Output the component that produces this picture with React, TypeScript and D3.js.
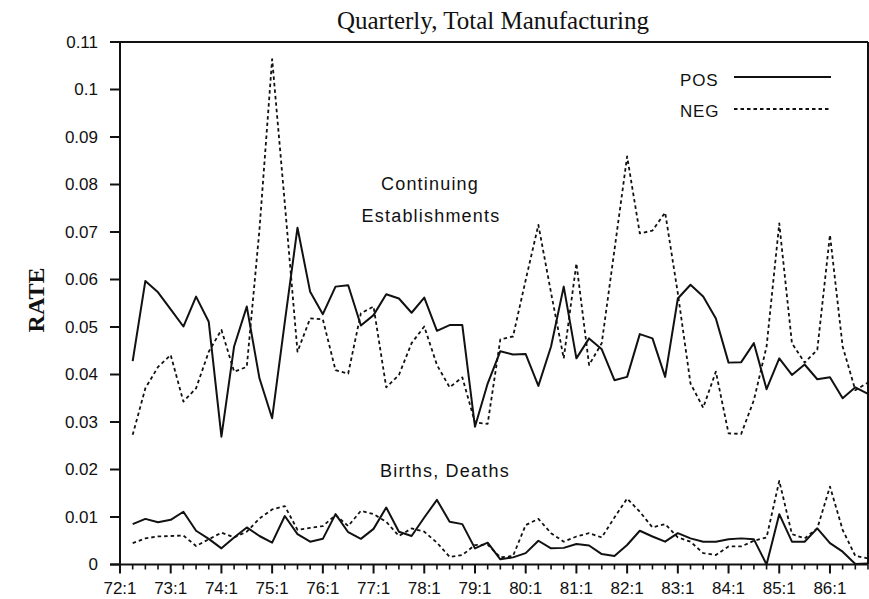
import * as d3 from 'd3';

const YEARS = [72, 73, 74, 75, 76, 77, 78, 79, 80, 81, 82, 83, 84, 85, 86];
const QUARTERS = YEARS.flatMap((y) => [1, 2, 3, 4].map((q) => `${y}:${q}`));
// series start at 72:2
const SERIES_QUARTERS = QUARTERS.slice(1);

const posContinuing = [
  0.0428, 0.0597, 0.0573, 0.0537, 0.0501, 0.0564, 0.0511, 0.0269, 0.0459, 0.0543,
  0.0392, 0.0308, 0.0511, 0.0709, 0.0574, 0.0527, 0.0585, 0.0588, 0.0503, 0.0525,
  0.0569, 0.0560, 0.0530, 0.0562, 0.0492, 0.0504, 0.0504, 0.0290, 0.0381, 0.0449,
  0.0442, 0.0443, 0.0376, 0.0459, 0.0585, 0.0434, 0.0476, 0.0453, 0.0388, 0.0395,
  0.0485, 0.0476, 0.0395, 0.0560, 0.0589, 0.0564, 0.0518, 0.0425, 0.0426, 0.0466,
  0.0369, 0.0434, 0.0399, 0.0421, 0.0390, 0.0394, 0.0350, 0.0373, 0.0359,
];

const negContinuing = [
  0.0273, 0.0371, 0.0416, 0.0441, 0.0343, 0.0371, 0.0448, 0.0494, 0.0406, 0.0416,
  0.0705, 0.1064, 0.0760, 0.0448, 0.0518, 0.0516, 0.0409, 0.0402, 0.0529, 0.0543,
  0.0373, 0.0399, 0.0466, 0.0501, 0.0420, 0.0373, 0.0394, 0.0299, 0.0296, 0.0474,
  0.0480, 0.0599, 0.0715, 0.0572, 0.0434, 0.0634, 0.0420, 0.0466, 0.0662, 0.0859,
  0.0697, 0.0703, 0.0741, 0.0571, 0.0381, 0.0330, 0.0406, 0.0276, 0.0275, 0.0346,
  0.0459, 0.0718, 0.0466, 0.0425, 0.0452, 0.0694, 0.0459, 0.0367, 0.0383,
];

const posBirths = [
  0.0085, 0.0096, 0.0089, 0.0094, 0.0111, 0.0071, 0.0054, 0.0034, 0.0057, 0.0078,
  0.0060, 0.0046, 0.0102, 0.0064, 0.0048, 0.0054, 0.0106, 0.0068, 0.0054, 0.0075,
  0.0120, 0.0069, 0.0060, 0.0099, 0.0136, 0.0090, 0.0085, 0.0034, 0.0046, 0.0011,
  0.0015, 0.0024, 0.0050, 0.0034, 0.0035, 0.0043, 0.0040, 0.0022, 0.0018, 0.0041,
  0.0071, 0.0059, 0.0048, 0.0066, 0.0055, 0.0048, 0.0048, 0.0053, 0.0055, 0.0053,
  0.0000, 0.0106, 0.0048, 0.0048, 0.0076, 0.0045, 0.0027, 0.0001, 0.0002,
];

const negDeaths = [
  0.0045, 0.0055, 0.0059, 0.0060, 0.0061, 0.0039, 0.0053, 0.0067, 0.0057, 0.0069,
  0.0097, 0.0116, 0.0123, 0.0073, 0.0077, 0.0081, 0.0104, 0.0081, 0.0113, 0.0106,
  0.0090, 0.0060, 0.0076, 0.0069, 0.0046, 0.0016, 0.0020, 0.0041, 0.0042, 0.0015,
  0.0018, 0.0083, 0.0096, 0.0066, 0.0048, 0.0059, 0.0066, 0.0057, 0.0099, 0.0139,
  0.0111, 0.0078, 0.0085, 0.0057, 0.0048, 0.0024, 0.0020, 0.0038, 0.0038, 0.0050,
  0.0057, 0.0176, 0.0064, 0.0055, 0.0076, 0.0164, 0.0073, 0.0018, 0.0013,
];

const Y_TICKS = [0, 0.01, 0.02, 0.03, 0.04, 0.05, 0.06, 0.07, 0.08, 0.09, 0.1, 0.11];

const WIDTH = 869;
const HEIGHT = 599;
const LEFT = 120;
const RIGHT = 868;
const TOP = 42;
const BOTTOM = 564.5;

const SANS = '"Liberation Sans", Arial, sans-serif';
const SERIF = '"Liberation Serif", "Times New Roman", serif';
const DASH = '3.5,3';

export default function App() {
  const x = d3.scalePoint<string>().domain(QUARTERS).range([LEFT, RIGHT]);
  const y = d3.scaleLinear().domain([0, 0.11]).range([BOTTOM, TOP]);

  const line = d3
    .line<number>()
    .x((_d, i) => x(SERIES_QUARTERS[i]) ?? 0)
    .y((d) => y(d));

  const series = [
    { values: posContinuing, dashed: false },
    { values: negContinuing, dashed: true },
    { values: posBirths, dashed: false },
    { values: negDeaths, dashed: true },
  ];

  return (
    <svg
      width={WIDTH}
      height={HEIGHT}
      style={{ position: 'absolute', left: 0, top: 0, background: '#fff' }}
    >
      {/* title */}
      <text x={493} y={29} textAnchor="middle" fontFamily={SERIF} fontSize={25} fill="#111">
        Quarterly, Total Manufacturing
      </text>
      <text
        transform="translate(44,300) rotate(-90)"
        textAnchor="middle"
        fontFamily={SERIF}
        fontSize={24}
        fontWeight="bold"
        fill="#111"
      >
        RATE
      </text>

      {/* frame */}
      <line x1={110} x2={RIGHT} y1={TOP} y2={TOP} stroke="#111" strokeWidth={2} />
      <line x1={RIGHT} x2={RIGHT} y1={TOP} y2={BOTTOM} stroke="#111" strokeWidth={2} />
      <line x1={LEFT} x2={LEFT} y1={TOP} y2={BOTTOM} stroke="#111" strokeWidth={2} />
      <line x1={110} x2={RIGHT} y1={BOTTOM} y2={BOTTOM} stroke="#111" strokeWidth={2} />

      {/* y axis */}
      {Y_TICKS.map((t) => (
        <g key={t} transform={`translate(0,${y(t)})`}>
          <line x1={110} x2={LEFT} stroke="#111" strokeWidth={2} />
          <text
            x={98}
            dy="0.35em"
            textAnchor="end"
            fontFamily={SANS}
            fontSize={17}
            fill="#111"
          >
            {t === 0 ? '0' : String(+t.toFixed(2))}
          </text>
        </g>
      ))}

      {/* x axis */}
      {QUARTERS.map((q) => {
        const major = q.endsWith(':1');
        const px = x(q) ?? 0;
        return (
          <g key={q}>
            <line
              x1={px}
              x2={px}
              y1={BOTTOM}
              y2={BOTTOM + (major ? 9 : 5)}
              stroke="#111"
              strokeWidth={major ? 2 : 1.6}
            />
            {major && (
              <text
                x={px}
                y={594}
                textAnchor="middle"
                fontFamily={SANS}
                fontSize={17}
                fill="#111"
              >
                {q}
              </text>
            )}
          </g>
        );
      })}

      {/* series */}
      {series.map((s, i) => (
        <path
          key={i}
          d={line(s.values) ?? ''}
          fill="none"
          stroke="#111"
          strokeWidth={s.dashed ? 1.8 : 2}
          strokeDasharray={s.dashed ? DASH : undefined}
          strokeLinejoin="round"
        />
      ))}

      {/* annotations */}
      <text x={430} y={190} textAnchor="middle" fontFamily={SANS} fontSize={18} letterSpacing={1.2} fill="#111">
        Continuing
      </text>
      <text x={431} y={222} textAnchor="middle" fontFamily={SANS} fontSize={18} letterSpacing={1.2} fill="#111">
        Establishments
      </text>
      <text x={380} y={477} fontFamily={SANS} fontSize={18} letterSpacing={1.2} fill="#111">
        Births, Deaths
      </text>

      {/* legend */}
      <text x={680} y={86} fontFamily={SANS} fontSize={17} letterSpacing={0.8} fill="#111">
        POS
      </text>
      <line x1={734} x2={831} y1={77} y2={77} stroke="#111" strokeWidth={2} />
      <text x={680} y={117} fontFamily={SANS} fontSize={17} letterSpacing={0.8} fill="#111">
        NEG
      </text>
      <line x1={734} x2={831} y1={109} y2={109} stroke="#111" strokeWidth={1.8} strokeDasharray={DASH} />
    </svg>
  );
}
